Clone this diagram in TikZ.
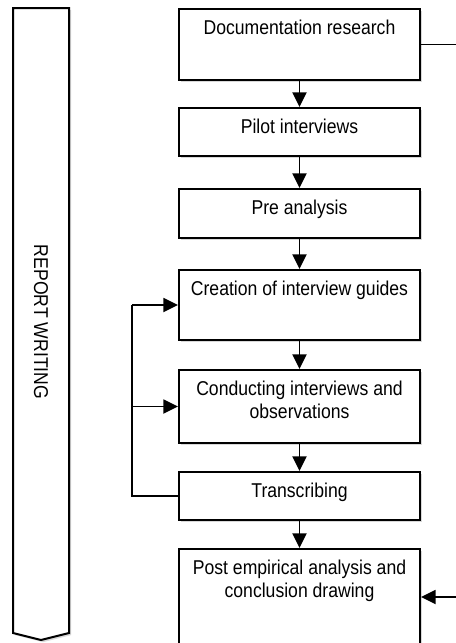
\documentclass[tikz,border=0pt]{standalone}
\usepackage{fontspec}
\setmainfont[FakeStretch=0.88]{Liberation Sans}
\usetikzlibrary{positioning,arrows.meta,shadows}

\begin{document}
\begin{tikzpicture}[
  x=0.75pt, y=-0.75pt,
  font=\fontsize{15}{16.8}\selectfont,
  shade/.style  = {drop shadow={shadow xshift=1.6pt, shadow yshift=-1.6pt, fill=black!30}},
  box/.style    = {draw=black, line width=1.5pt, fill=white, inner sep=0pt, anchor=north,
                   minimum width=180.75pt, shade},
  banner/.style = {draw=black, line width=1.5pt, fill=white, shade},
  txt/.style    = {align=center, inner sep=0pt},
  arr/.style    = {-{Triangle[length=11pt,width=10.5pt]}, line width=1.4pt},
  line/.style   = {line width=1.4pt}]

\useasboundingbox (0,0) rectangle (456,643);
\clip (0,0) rectangle (456,643);

% report writing runs alongside the whole study
\draw[banner] (13,8) -- (69,8) -- (69,633) -- (41,640) -- (13,633) -- cycle;
\node[txt, rotate=-90] (report) at (41,322) {REPORT WRITING};

% steps of the study (y grows downwards)
\node[box, minimum height=53.25pt] (doc)   at (299.5,8)   {};
\node[box, minimum height=36pt]    (pilot) at (299.5,107) {};
\node[box, minimum height=36.75pt] (pre)   at (299.5,188) {};
\node[box, minimum height=52.5pt]  (guide) at (299.5,269) {};
\node[box, minimum height=54.75pt] (cond)  at (299.5,369) {};
\node[box, minimum height=36pt]    (trans) at (299.5,471) {};
\node[box, minimum height=84pt]    (post)  at (299.5,548) {};

\foreach \n/\t in {doc/Documentation research, pilot/Pilot interviews, pre/Pre analysis,
                   guide/Creation of interview guides,
                   cond/{Conducting interviews and\\observations},
                   trans/Transcribing,
                   post/{Post empirical analysis and\\conclusion drawing}}
  \node[txt, below=9pt of \n.north] (\n-t) {\t};

\foreach \a/\b in {doc/pilot, pilot/pre, pre/guide, guide/cond, cond/trans, trans/post}
  \draw[arr] (\a) -- (\b);

% loose ends leaving the page on the right
\coordinate (edge) at (456,597);
\draw[line] (doc.east) -- (doc.east -| edge);
\draw[arr] (edge) -- (edge -| post.east);

% feedback from transcribing to the guides and the interviews
\coordinate (loop) at (132,0);
\draw[line] (trans.west) -- (trans.west -| loop) -- (guide.west -| loop);
\draw[arr] (guide.west -| loop) -- (guide.west);
\draw[arr] (cond.west -| loop) -- (cond.west);

\end{tikzpicture}
\end{document}
